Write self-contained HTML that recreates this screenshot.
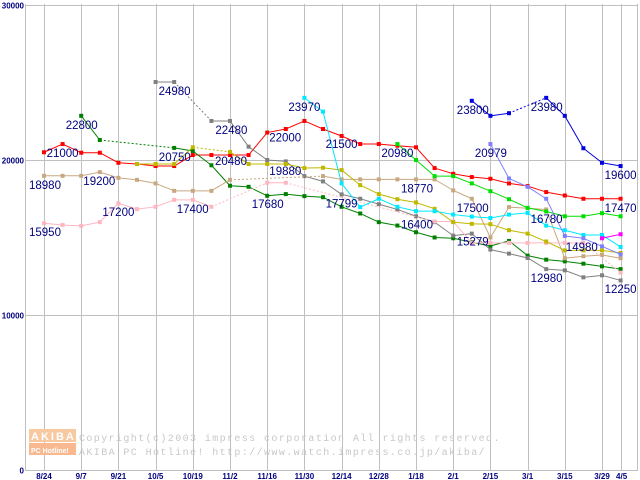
<!DOCTYPE html>
<html><head><meta charset="utf-8"><style>
html,body{margin:0;padding:0;background:#fff;}
svg{display:block;font-family:"Liberation Sans",sans-serif;}
</style></head><body>
<svg id="chart" width="640" height="480" viewBox="0 0 640 480" xmlns="http://www.w3.org/2000/svg">
<g id="grid"></g>
<g id="watermark">
<rect x="29" y="429" width="47" height="13" fill="#f8c8a0"/>
<rect x="29" y="443" width="47" height="12" fill="#f8b890"/>
<text x="31" y="440" font-size="11" font-weight="bold" fill="#fff" letter-spacing="2">AKIBA</text>
<text x="31" y="453" font-size="7" font-weight="bold" fill="#fff">PC Hotline!</text>
<text x="79" y="441" font-size="10" fill="#c8c8c8" letter-spacing="1.4" font-family="Liberation Mono,monospace">Copyright(c)2003 impress corporation All rights reserved.</text>
<text x="79" y="455" font-size="10" fill="#c8c8c8" letter-spacing="1.4" font-family="Liberation Mono,monospace">AKIBA PC Hotline!  http://www.watch.impress.co.jp/akiba/</text>
</g>
<g id="series"></g>
<g id="labels"></g>
</svg>
<script>
const xTickLabels = ["8/24","9/7","9/21","10/5","10/19","11/2","11/16","11/30","12/14","12/28","1/18","2/1","2/15","3/1","3/15","3/29"];
const yTicks = [0,10000,20000,30000];
const N = null;
const redVals    = [20500,21030,20470,20470,19820,19740,19610,19610,20320,20320,20320,20320,21770,22000,22520,22000,21550,21030,21030,20920,20820,19480,19110,18900,18790,18490,18320,17930,17710,17500,17500,17500];
const dgreenVals = [N,N,22850,21290,N,N,N,20780,20580,19660,18340,18270,17690,17800,17670,17600,16980,16550,15990,15770,15340,15000,14950,14690,14450,14780,13830,13570,13460,13310,13140,12960];
const grayVals   = [N,N,N,N,N,N,25030,25030,N,22520,22520,20860,20000,19910,18960,18620,17780,17500,17150,16810,16370,15990,15120,15250,14220,13960,13680,12960,12880,12430,12560,12230];
const tanVals    = [18980,18980,18980,19220,18850,18720,18490,18010,18010,18010,18720,N,N,N,N,18960,18750,18750,18750,18750,18750,18750,18040,17500,15000,16960,16890,16810,13660,13790,13870,13660];
const pinkVals   = [15920,15810,15750,15990,17200,16830,16980,17430,17430,16980,N,N,18530,18530,N,N,N,N,N,N,N,16030,16030,14650,14650,14650,14650,14650,14650,14650,N,12730];
const oliveVals  = [N,N,N,N,N,19740,19740,19740,20820,N,20520,19740,19740,19740,19480,19500,19350,18380,17800,17470,17260,16850,15990,15880,15860,15470,15250,14740,14170,14170,14170,14000];
const cyanVals   = [N,N,N,N,N,N,N,N,N,N,N,N,N,N,24010,23120,18490,16960,17500,16980,16700,16700,16480,16350,16260,16480,16590,15770,15470,15160,15160,14390];
const limeVals   = [N,N,N,N,N,N,N,N,N,N,N,N,N,N,N,N,N,N,N,21030,20000,18960,18960,18490,17990,17470,16910,16680,16370,16370,16570,16370];
const blueVals   = [N,N,N,N,N,N,N,N,N,N,N,N,N,N,N,N,N,N,N,N,N,N,N,23820,22850,23020,N,24010,22850,20760,19820,19610];
const periVals   = [N,N,N,N,N,N,N,N,N,N,N,N,N,N,N,N,N,N,N,N,N,N,N,N,21030,18810,18270,17500,15100,14950,14430,13910];
const magentaVals= [N,N,N,N,N,N,N,N,N,N,N,N,N,N,N,N,N,N,N,N,N,N,N,N,N,N,N,N,N,N,14950,15210];
const labelTexts = ["21000","22800","24980","22480","20750","20480","19880","22000","23970","18980","19200","17200","17400","17680","15950","21500","17799","20980","18770","16400","17500","15279","23800","20979","23980","16780","14980","12980","19600","17470","12250"];
const labelIdx   = [1,2,6,9,8,10,13,12,14,0,3,4,7,12,0,16,16,19,20,20,22,22,23,24,27,26,28,26,31,31,31];
const labelVals  = [21030,22850,25030,22520,20580,20320,19910,21770,24010,18980,19220,17200,17430,17690,15920,21550,17780,21030,18750,15340,17470,15120,23820,21030,24010,16590,15160,13680,19610,17500,12230];
const labelDx    = [-16,-15.5,3,4,-34,-15,-16.5,2,-16,-15,-16.5,-16,2.5,-15.5,-15,-16,-16,-16,-15,-15,3.5,3.5,-15,-15.5,-15.5,3,1,3,-16,-16,-16];
const labelDy    = [13,13,13,13,10,10,13.6,9,13,13,13,12.6,13,12,13,12,13,13,13,-3.7,13,10,13,13,13,10,16,24,13,13,12.6];

const W0=44, DX=18.6;
const xPos=i=>W0+i*DX;
const yPos=v=>470-v*0.0155;
const NS="http://www.w3.org/2000/svg";
function mk(tag,attrs,parent){const e=document.createElementNS(NS,tag);for(const k in attrs)e.setAttribute(k,attrs[k]);parent.appendChild(e);return e;}
const grid=document.getElementById('grid');
yTicks.forEach((t,k)=>{
  const y=Math.round(yPos(t))+0.5;
  const l=mk('line',{x1:25,x2:638,y1:y,y2:y,stroke:'#c0c0c0','stroke-width':1},grid);
  
  
  const tx=mk('text',{x:24,y:y+3,'font-size':8,'font-weight':'bold','text-anchor':'end',fill:'#000080'},grid);
  tx.textContent=String(t);
  
  
});
const vIdx=[];for(let i=0;i<=30;i+=2)vIdx.push(i);vIdx.push(31);
mk('line',{x1:25.5,x2:25.5,y1:4,y2:470,stroke:'#c0c0c0'},grid);
mk('line',{x1:637.5,x2:637.5,y1:4,y2:470,stroke:'#c0c0c0'},grid);
vIdx.forEach(i=>{
  const x=Math.round(xPos(i))+0.5;
  const l=mk('line',{x1:x,x2:x,y1:4,y2:470,stroke:'#c0c0c0'},grid);
  
  
});
xTickLabels.forEach((s,k)=>{
  const tx=mk('text',{x:xPos(k*2),y:479,'font-size':8,'font-weight':'bold','text-anchor':'middle',fill:'#000080'},grid);
  tx.textContent=s;
  
  
});
const t45=mk('text',{x:xPos(31)+1,y:479,'font-size':8,'font-weight':'bold','text-anchor':'middle',fill:'#000080'},grid);
t45.textContent="4/5";



const seriesList=[[redVals,'#ff0000','red'],[dgreenVals,'#008000','dark-green'],[grayVals,'#808080','gray'],[tanVals,'#c8a880','tan'],[pinkVals,'#ffb6c1','pink'],[oliveVals,'#c0b800','olive'],[cyanVals,'#00e8ff','cyan'],[limeVals,'#00e000','lime'],[blueVals,'#0000e0','blue'],[periVals,'#8080ff','periwinkle'],[magentaVals,'#ff00ff','magenta']];
const sg=document.getElementById('series');
seriesList.forEach(([vals,col,nm])=>{
  const g=mk('g',{},sg);
  
  
  let prev=-1;
  vals.forEach((v,i)=>{
    if(v===null)return;
    if(prev>=0){
      const ln=mk('line',{x1:xPos(prev),y1:yPos(vals[prev]),x2:xPos(i),y2:yPos(v),stroke:col,'stroke-width':1},g);
      if(i-prev>1)ln.setAttribute('stroke-dasharray','2,2');
      
      
    }
    const p=mk('rect',{x:xPos(i)-2,y:yPos(v)-2,width:4,height:4,fill:col},g);
    
    
    prev=i;
  });
});
const lg=document.getElementById('labels');
labelTexts.forEach((s,k)=>{
  const tx=mk('text',{x:xPos(labelIdx[k])+labelDx[k],y:yPos(labelVals[k])+labelDy[k],'font-size':11.5,fill:'#000080'},lg);
  tx.textContent=s;
  
  
});
</script>
</body></html>
